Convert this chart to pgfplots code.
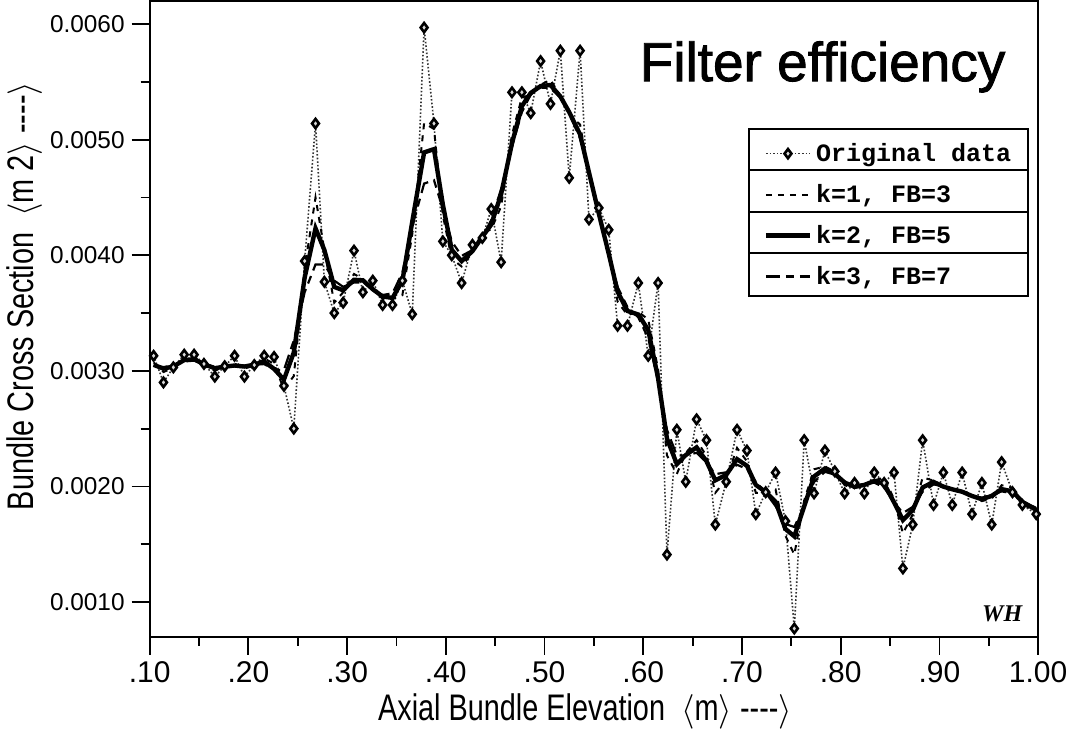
\documentclass[border=0pt]{standalone}
\usepackage{pgfplots}
\pgfplotsset{compat=1.18}
\usepackage{pgfplotstable}
\usepackage{fontspec}
\setmainfont{Liberation Sans}
\newfontfamily\condfont[FakeStretch=0.78]{Liberation Sans}
\newfontfamily\legfont{Liberation Mono}
\newfontfamily\signfont{Liberation Serif}

% x, original data, k=1 FB=3, k=2 FB=5, k=3 FB=7
\pgfplotstableread{
x     o        k1        k2        k3
0.104 0.00313  0.003073  0.003052  0.003044
0.114 0.00290  0.002990  0.003019  0.003032
0.124 0.00303  0.003025  0.003038  0.003047
0.135 0.00314  0.003113  0.003093  0.003081
0.145 0.00314  0.003120  0.003101  0.003088
0.155 0.00306  0.003053  0.003056  0.003059
0.166 0.00295  0.003000  0.003023  0.003035
0.176 0.00304  0.003040  0.003036  0.003035
0.186 0.00313  0.003063  0.003046  0.003041
0.196 0.00295  0.003020  0.003037  0.003044
0.206 0.00305  0.003045  0.003054  0.003056
0.216 0.00313  0.003108  0.003080  0.003058
0.226 0.00312  0.003060  0.003017  0.003010
0.236 0.00287  0.002840  0.002924  0.003006
0.246 0.00250  0.002955  0.003159  0.003262
0.257 0.00395  0.003885  0.003806  0.003680
0.268 0.00514  0.004500  0.004233  0.003920
0.277 0.00377  0.004045  0.004045  0.003920
0.287 0.00350  0.003590  0.003726  0.003780
0.296 0.00359  0.003680  0.003697  0.003727
0.307 0.00404  0.003838  0.003788  0.003764
0.316 0.00368  0.003795  0.003783  0.003765
0.326 0.00378  0.003703  0.003706  0.003709
0.336 0.00357  0.003623  0.003643  0.003656
0.346 0.00357  0.003623  0.003631  0.003671
0.356 0.00378  0.003655  0.003779  0.003850
0.366 0.00349  0.004183  0.004291  0.004250
0.378 0.00597  0.005143  0.004890  0.004620
0.388 0.00514  0.005093  0.004918  0.004650
0.397 0.00412  0.004345  0.004438  0.004400
0.406 0.00400  0.003970  0.004047  0.004120
0.416 0.00376  0.003903  0.003949  0.003995
0.427 0.00409  0.004023  0.004036  0.004045
0.437 0.00415  0.004198  0.004160  0.004156
0.446 0.00440  0.004223  0.004266  0.004305
0.456 0.00394  0.004423  0.004528  0.004572
0.467 0.00541  0.005043  0.004968  0.004938
0.477 0.00541  0.005365  0.005290  0.005238
0.486 0.00523  0.005388  0.005404  0.005391
0.496 0.00568  0.005475  0.005464  0.005451
0.506 0.00531  0.005518  0.005473  0.005446
0.516 0.00577  0.005380  0.005374  0.005365
0.525 0.00467  0.005220  0.005238  0.005224
0.536 0.00577  0.005130  0.005045  0.005011
0.545 0.00431  0.004700  0.004717  0.004710
0.555 0.00441  0.004338  0.004359  0.004362
0.565 0.00422  0.004060  0.004014  0.004018
0.574 0.00339  0.003598  0.003684  0.003725
0.584 0.00339  0.003483  0.003518  0.003552
0.595 0.00376  0.003510  0.003487  0.003462
0.605 0.00313  0.003445  0.003354  0.003283
0.615 0.00376  0.003015  0.002936  0.002910
0.624 0.00141  0.002268  0.002414  0.002489
0.634 0.00249  0.002108  0.002193  0.002268
0.643 0.00204  0.002288  0.002271  0.002268
0.654 0.00258  0.002400  0.002338  0.002291
0.664 0.00240  0.002263  0.002218  0.002206
0.673 0.00167  0.001945  0.002053  0.002106
0.684 0.00204  0.002060  0.002099  0.002122
0.695 0.00249  0.002333  0.002236  0.002187
0.705 0.00231  0.002218  0.002178  0.002151
0.714 0.00176  0.001945  0.002013  0.002039
0.724 0.00195  0.001945  0.001952  0.001946
0.734 0.00212  0.001973  0.001866  0.001829
0.744 0.00170  0.001573  0.001632  0.001674
0.753 0.00077  0.001410  0.001568  0.001649
0.763 0.00240  0.001878  0.001828  0.001827
0.773 0.00194  0.002148  0.002086  0.002039
0.784 0.00231  0.002173  0.002155  0.002126
0.794 0.00213  0.002128  0.002109  0.002102
0.804 0.00194  0.002010  0.002033  0.002043
0.814 0.00203  0.001985  0.001997  0.002010
0.824 0.00194  0.002008  0.002013  0.002018
0.834 0.00212  0.002053  0.002047  0.002033
0.844 0.00203  0.002075  0.002023  0.001989
0.854 0.00212  0.001890  0.001862  0.001864
0.863 0.00129  0.001593  0.001708  0.001769
0.873 0.00167  0.001758  0.001796  0.001823
0.883 0.00240  0.002078  0.001991  0.001954
0.894 0.00184  0.002050  0.002039  0.002017
0.904 0.00212  0.001980  0.001998  0.002002
0.913 0.00184  0.001980  0.001975  0.001975
0.923 0.00212  0.001960  0.001954  0.001950
0.933 0.00176  0.001918  0.001917  0.001919
0.943 0.00203  0.001873  0.001889  0.001903
0.953 0.00167  0.001895  0.001918  0.001925
0.963 0.00221  0.002010  0.001976  0.001957
0.974 0.00195  0.001988  0.001958  0.001940
0.984 0.00184  0.001848  0.001866  0.001872
0.998 0.00176  0.001780  0.001797  0.001814
}\filterdata

\begin{document}
\begin{tikzpicture}
\begin{axis}[
  scale only axis, width=444.5pt, height=318pt,
  xmin=0.1, xmax=1.0, ymin=0.0007, ymax=0.0062,
  axis line style={line width=1pt},
  tick align=outside, xtick pos=bottom, ytick pos=left,
  scaled ticks=false,
  xtick={0.1,0.2,0.3,0.4,0.5,0.6,0.7,0.8,0.9,1.0},
  xticklabels={.10,.20,.30,.40,.50,.60,.70,.80,.90,1.00},
  minor xtick={0.15,0.25,0.35,0.45,0.55,0.65,0.75,0.85,0.95},
  ytick={0.001,0.002,0.003,0.004,0.005,0.006},
  yticklabels={0.0010,0.0020,0.0030,0.0040,0.0050,0.0060},
  minor ytick={0.0015,0.0025,0.0035,0.0045,0.0055},
  major tick length=9pt, minor tick length=4.5pt,
  every tick/.style={black, line width=0.9pt},
  xticklabel style={font=\fontsize{15}{15}\selectfont},
  yticklabel style={font=\fontsize{12.2}{13}\selectfont},
  xlabel={Axial Bundle Elevation \ $\Big\langle$m$\Big\rangle$ -{}-{}-{}-$\Big\rangle$},
  xlabel style={at={(axis description cs:0.49,-0.118)}, anchor=center,
    font=\condfont\fontsize{18.5}{20}\selectfont},
  ylabel={Bundle Cross Section \ $\Big\langle$m 2$\Big\rangle$ -{}-{}-{}-$\Big\rangle$},
  ylabel style={at={(axis description cs:-0.141,0.188)}, anchor=west,
    font=\condfont\fontsize{18.5}{20}\selectfont},
  legend image code/.code={\draw[mark repeat=2, mark phase=2, #1]
    plot coordinates {(0pt,0pt) (11pt,0pt) (22pt,0pt)};},
  legend style={at={(rel axis cs:0.684,0.799)}, anchor=north west,
    draw=none, fill=none, row sep=0pt,
    font=\legfont\bfseries\fontsize{12.5}{14}\selectfont,
    nodes={minimum height=20.5pt, inner sep=2pt}},
  legend cell align=left,
]
\draw[line width=1pt, fill=white] (rel axis cs:0.675,0.536) rectangle (rel axis cs:0.988,0.799);
\draw[line width=1pt] (rel axis cs:0.675,0.734) -- (rel axis cs:0.988,0.734);
\draw[line width=1pt] (rel axis cs:0.675,0.668) -- (rel axis cs:0.988,0.668);
\draw[line width=1pt] (rel axis cs:0.675,0.603) -- (rel axis cs:0.988,0.603);

\addplot[black!80, densely dotted, line width=0.8pt, mark=diamond*, mark size=2.3pt,
  mark options={solid, draw=black, fill=black!15, line width=1.3pt}] table[x=x, y=o] {\filterdata};
\addplot[black, dashed, line width=1pt] table[x=x, y=k1] {\filterdata};
\addplot[black, line width=2.2pt] table[x=x, y=k2] {\filterdata};
\addplot[black, line width=1.1pt, dash pattern=on 7pt off 3pt on 4pt off 3pt] table[x=x, y=k3] {\filterdata};
\legend{Original data, {k=1, FB=3}, {k=2, FB=5}, {k=3, FB=7}}

\node[anchor=base east, font=\addfontfeature{FakeBold=1.5}\fontsize{27.5}{30}\selectfont] at (rel axis cs:0.971,0.874) {Filter efficiency};
\node[anchor=south east, font=\signfont\bfseries\itshape\fontsize{12}{12}\selectfont] at (rel axis cs:0.99,0.012) {WH};
\end{axis}
\end{tikzpicture}
\end{document}
